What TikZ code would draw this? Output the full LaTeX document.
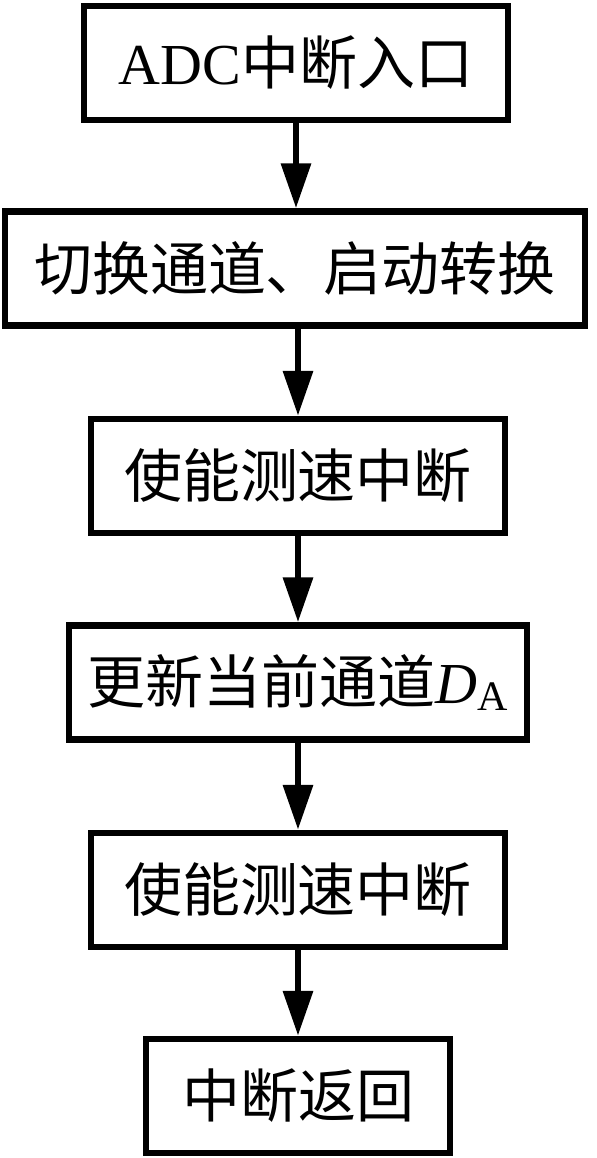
\documentclass[tikz,border=0pt]{standalone}
\usepackage{fontspec}
\setmainfont{Liberation Serif}
\newfontfamily\cjk{Noto Sans CJK SC}
\usetikzlibrary{arrows.meta}

\newcommand{\boxfont}{\cjk\fontsize{29pt}{29pt}\selectfont}
\newcommand{\lat}[1]{{\rmfamily #1}}

\begin{document}
\begin{tikzpicture}[
    x=0.5pt, y=-0.5pt,
    stepbox/.style={draw=black, line width=3.25pt, inner sep=0pt,
                    minimum height=57pt, font=\boxfont},
    arr/.style={-{Triangle[length=22.5pt, width=14.5pt]}, line width=3.25pt},
]
\useasboundingbox (0,0) rectangle (596,1158);

% Entry
\node[stepbox, minimum width=212pt] (entry) at (296, 63) {\lat{ADC}中断入口};

% Switch channel
\node[stepbox, minimum width=290pt] (switch) at (295, 268.5) {切换通道、启动转换};

% Enable 1
\node[stepbox, minimum width=207pt] (enA) at (298, 476) {使能测速中断};

% Update
\node[stepbox, minimum width=229pt] (update) at (298, 682.5)
    {更新当前通道\lat{\itshape D}\raisebox{-0.25ex}{\lat{\fontsize{21pt}{21pt}\selectfont A}}};

% Enable 2
\node[stepbox, minimum width=207pt] (enB) at (298, 890) {使能测速中断};

% Return
\node[stepbox, minimum width=152pt] (ret) at (298, 1096) {中断返回};

\draw[arr] (entry.south) -- (entry.south |- switch.north);
\draw[arr] (switch.south -| enA.north) -- (enA.north);
\draw[arr] (enA.south) -- (update.north);
\draw[arr] (update.south) -- (enB.north);
\draw[arr] (enB.south) -- (ret.north);

\end{tikzpicture}
\end{document}
